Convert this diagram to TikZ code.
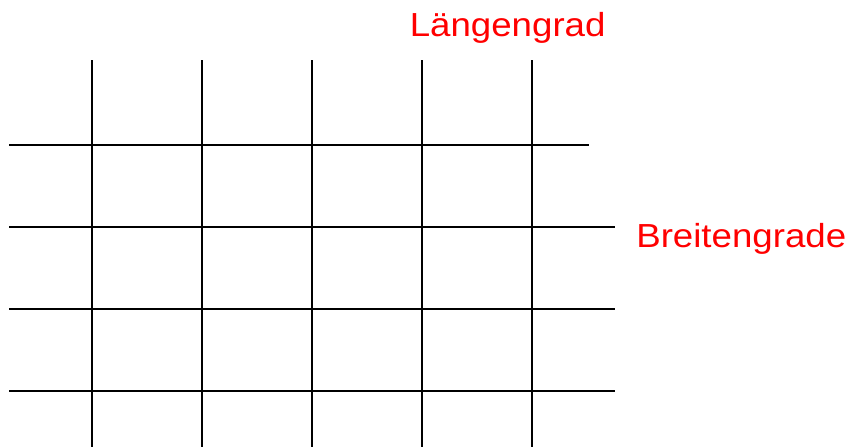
\documentclass[tikz,border=0pt]{standalone}
\usepackage{fontspec}
\setmainfont{Liberation Sans}
\begin{document}
\begin{tikzpicture}[x=.75pt,y=-.75pt,gridline/.style={line width=1.5pt,black},lbl/.style={red,anchor=base west,inner sep=0pt,xscale=1.1,font=\fontsize{25}{30}\selectfont}]
\useasboundingbox (0,0) rectangle (848,447);
\draw[gridline] (92,60)--(92,447);\draw[gridline] (202,60)--(202,447);\draw[gridline] (312,60)--(312,447);
\draw[gridline] (422,60)--(422,447);\draw[gridline] (532,60)--(532,447);
\draw[gridline] (9,145)--(589,145);\draw[gridline] (9,227)--(615,227);
\draw[gridline] (9,309)--(615,309);\draw[gridline] (9,391)--(615,391);
\node[lbl] (laenge) at (409.5,36.7){Längengrad};
\node[lbl] (breite) at (636,247.3){Breitengrade};
\end{tikzpicture}
\end{document}
